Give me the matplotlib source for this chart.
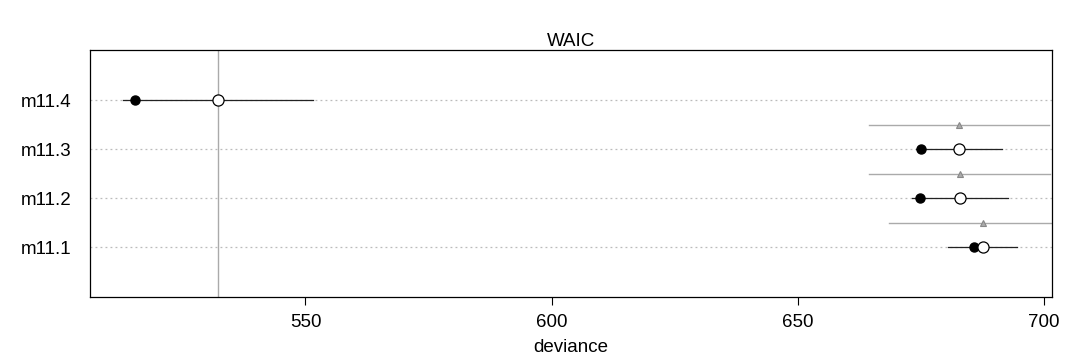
import matplotlib
matplotlib.use("Agg")
import matplotlib.pyplot as plt
import numpy as np

plt.rcParams['font.family'] = ['Liberation Sans', 'DejaVu Sans']

# model comparison values
models = ["m11.1", "m11.2", "m11.3", "m11.4"]
deviance_in = [685.8, 674.9, 675.0, 515.3]   # filled points
waic = [687.6, 683.0, 682.8, 532.2]          # open points
waic_se = [7.1, 9.8, 8.8, 19.3]
dse = [19.0, 18.4, 18.3, None]               # difference SE (triangles)

fig = plt.figure(figsize=(10.8, 3.6), dpi=100)
ax = fig.add_axes([0.0833, 0.175, 0.8907, 0.686])

ypos = np.arange(1, len(models) + 1)

# dotted guide lines
for y in ypos:
    ax.axhline(y, color="#bbbbbb", lw=0.9, ls=(0, (1.5, 2.5)), zorder=0)

# best WAIC reference line
ax.axvline(min(waic), color="#aaaaaa", lw=1, zorder=1)

# dSE bars with triangles
for i, y in enumerate(ypos):
    if dse[i] is None:
        continue
    ax.plot([waic[i] - dse[i], waic[i] + dse[i]], [y + 0.5, y + 0.5],
            color="#aaaaaa", lw=1, zorder=2)
    ax.plot(waic[i], y + 0.5, marker="^", ms=5, mfc="#aaaaaa", mec="#888888",
            mew=0.8, zorder=3)

# WAIC +- SE
for i, y in enumerate(ypos):
    ax.plot([waic[i] - waic_se[i], waic[i] + waic_se[i]], [y, y],
            color="#222222", lw=0.9, zorder=3)
ax.plot(deviance_in, ypos, "o", color="black", ms=6.5, zorder=4)
ax.plot(waic, ypos, "o", mfc="white", mec="black", ms=8, mew=0.9, zorder=5)

ax.set_xlim(506.2, 701.7)
ax.set_ylim(-0.02, 5.02)
ax.set_xticks([550, 600, 650, 700])
ax.set_yticks(ypos)
ax.set_yticklabels(models)
ax.tick_params(axis="x", length=6, labelsize=13.5, pad=6)
ax.tick_params(axis="y", length=0, labelsize=13.5, pad=13)
for s in ax.spines.values():
    s.set_linewidth(0.9)

ax.set_title("WAIC", fontsize=13.5, pad=2.5)
ax.set_xlabel("deviance", fontsize=13.5, labelpad=6)

fig.savefig("out.png", dpi=100)
